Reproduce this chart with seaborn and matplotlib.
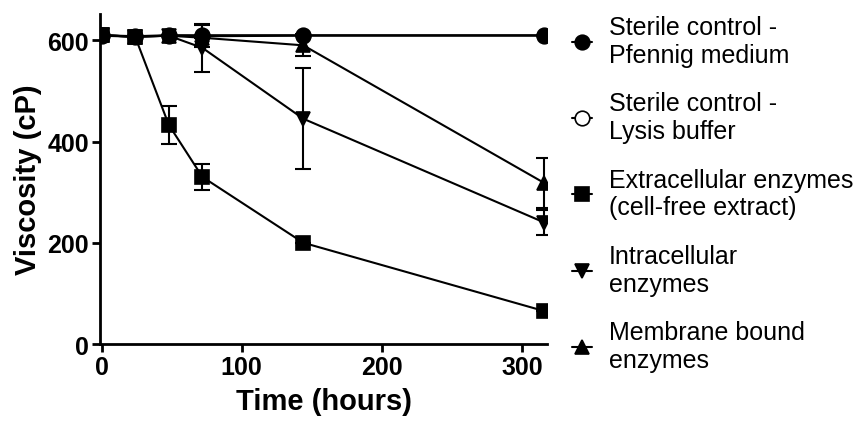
import numpy as np
import pandas as pd
import matplotlib
matplotlib.use('Agg')
import matplotlib.pyplot as plt
import seaborn as sns

sns.set_style('ticks')
plt.rcParams['font.family'] = ['Liberation Sans', 'DejaVu Sans']
plt.rcParams['text.color'] = 'black'
plt.rcParams['axes.labelcolor'] = 'black'
plt.rcParams['xtick.color'] = 'black'
plt.rcParams['ytick.color'] = 'black'
plt.rcParams['axes.edgecolor'] = 'black'

hours = [0, 24, 48, 72, 144, 316]

pfennig = [610, 608, 610, 610, 610, 610]
pfennig_sd = [0, 0, 0, 0, 0, 0]
lysis = [609, 607, 609, 608, 609, 609]
lysis_sd = [0, 0, 0, 22, 0, 0]
extracellular = [610, 607, 433, 330, 200, 65]
extracellular_sd = [0, 0, 38, 26, 0, 0]
intracellular = [610, 607, 609, 585, 445, 240]
intracellular_sd = [0, 0, 0, 48, 100, 24]
membrane = [610, 607, 609, 605, 590, 318]
membrane_sd = [0, 0, 0, 0, 22, 50]

labels = ['Sterile control -\nPfennig medium',
          'Sterile control -\nLysis buffer',
          'Extracellular enzymes\n(cell-free extract)',
          'Intracellular\nenzymes',
          'Membrane bound\nenzymes']

series = [
    (labels[1], lysis, lysis_sd, 'o', 'white'),
    (labels[2], extracellular, extracellular_sd, 's', 'black'),
    (labels[3], intracellular, intracellular_sd, 'v', 'black'),
    (labels[4], membrane, membrane_sd, '^', 'black'),
    (labels[0], pfennig, pfennig_sd, 'o', 'black'),
]

fig = plt.figure(figsize=(8.63, 4.27), dpi=100)
ax = fig.add_axes([0.116, 0.192, 0.518, 0.773])

handles = {}
for name, vals, sd, mk, fc in series:
    df = pd.DataFrame({'time': hours, 'visc': vals})
    ax.errorbar(hours, vals, yerr=sd, fmt='none', ecolor='black',
                elinewidth=1.5, capsize=6, capthick=1.5, zorder=2)
    sns.lineplot(data=df, x='time', y='visc', ax=ax, color='black',
                 linewidth=1.5, marker=mk, markersize=10.5,
                 markerfacecolor=fc, markeredgecolor='black',
                 markeredgewidth=1.2, label=name, zorder=3)
    handles[name] = ax.get_lines()[-1]

ax.set_xlim(-1, 318)
ax.set_ylim(0, 652)
ax.set_xticks([0, 100, 200, 300])
ax.set_yticks([0, 200, 400, 600])
for s in ['top', 'right']:
    ax.spines[s].set_visible(False)
for s in ['left', 'bottom']:
    ax.spines[s].set_linewidth(2)
ax.tick_params(width=2, length=6, labelsize=18, pad=2)
for t in ax.get_xticklabels() + ax.get_yticklabels():
    t.set_fontweight('bold')
ax.set_xlabel('Time (hours)', fontsize=21, fontweight='bold', labelpad=6)
ax.set_ylabel('Viscosity (cP)', fontsize=21, fontweight='bold', labelpad=4)

leg = ax.legend([handles[l] for l in labels], labels, loc='upper left',
                bbox_to_anchor=(1.034, 1.027), frameon=False, fontsize=18,
                handlelength=0.8, handletextpad=0.65, labelspacing=0.98,
                borderaxespad=0)
for t in leg.get_texts():
    t.set_linespacing(1.2)

fig.savefig('out.png', dpi=100)
plt.close(fig)
